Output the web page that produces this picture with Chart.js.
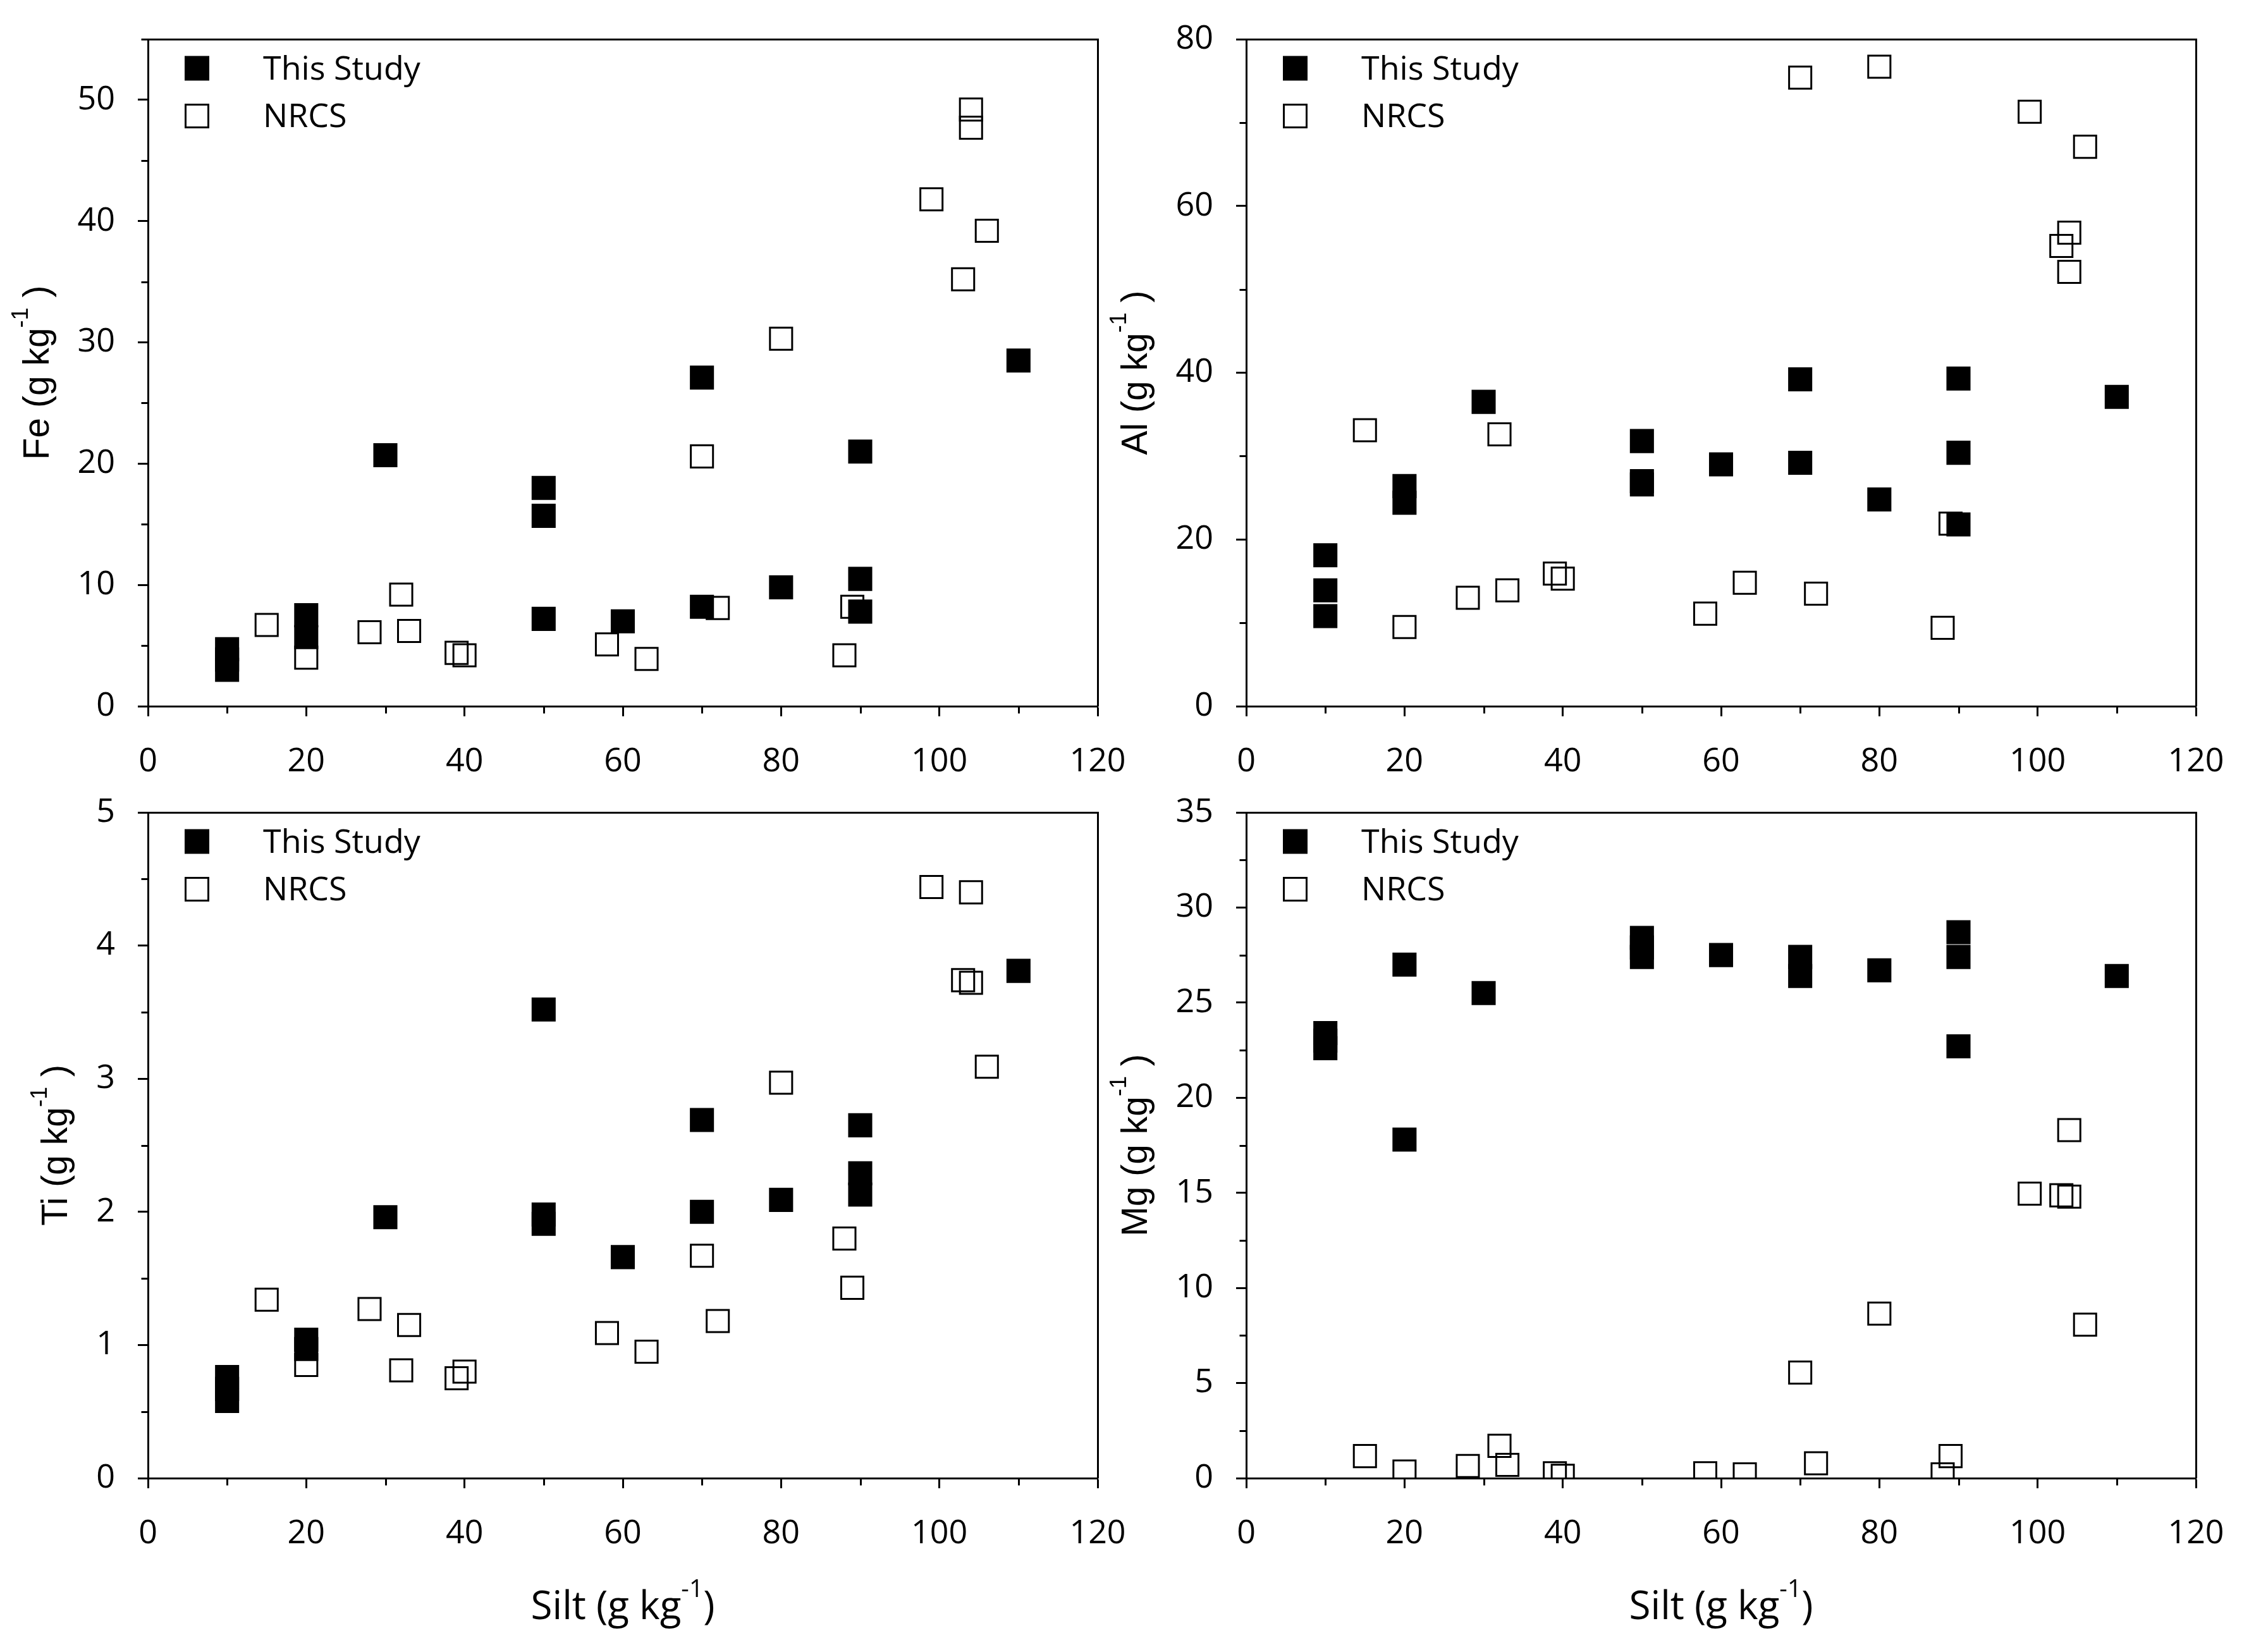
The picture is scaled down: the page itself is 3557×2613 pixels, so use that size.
<!DOCTYPE html>
<html>
<head>
<meta charset="utf-8">
<title>Fe, Al, Ti, Mg vs silt</title>
<script src="https://cdn.jsdelivr.net/npm/chart.js@4.4.1/dist/chart.umd.min.js"></script>
<style>
  html, body { margin: 0; padding: 0; background: #fff; }
  #wrap { position: relative; width: 3557px; height: 2613px; overflow: hidden; }
  #wrap canvas { position: absolute; }
</style>
</head>
<body>
<div id="wrap">
  <canvas id="chartFe" width="1836" height="1268" style="left:0px;top:-18px"></canvas>
  <canvas id="chartAl" width="1833" height="1268" style="left:1740px;top:-18px"></canvas>
  <canvas id="chartTi" width="1836" height="1408" style="left:0px;top:1205px"></canvas>
  <canvas id="chartMg" width="1833" height="1408" style="left:1740px;top:1205px"></canvas>
</div>
<script>
// silt (g/kg) for each sample
var studySilt = [10, 10, 10, 20, 20, 30, 50, 50, 50, 60, 70, 70, 80, 90, 90, 90, 110];
var nrcsSilt = [15, 20, 28, 32, 33, 39, 40, 58, 63, 70, 72, 80, 88, 89, 99, 103, 104, 104, 106];

// element contents (g/kg)
var feStudy = [4.7, 3.85, 3.0, 7.5, 5.7, 20.7, 18.0, 15.7, 7.2, 7.0, 27.1, 8.2, 9.8, 21.0, 10.5, 7.8, 28.5];
var feNrcs = [6.7, 4.0, 6.1, 9.2, 6.2, 4.4, 4.2, 5.1, 3.9, 20.6, 8.1, 30.3, 4.2, 8.2, 41.8, 35.2, 49.2, 47.7, 39.2];

var alStudy = [18.1, 13.9, 10.8, 26.4, 24.4, 36.5, 31.8, 27.0, 26.6, 29.0, 39.2, 29.2, 24.8, 39.3, 30.4, 21.8, 37.1];
var alNrcs = [33.1, 9.5, 13.0, 32.6, 13.9, 15.9, 15.3, 11.1, 14.8, 75.4, 13.5, 76.7, 9.4, 21.9, 71.3, 55.2, 56.8, 52.1, 67.1];

var tiStudy = [0.76, 0.67, 0.58, 1.04, 0.97, 1.96, 3.52, 1.98, 1.91, 1.66, 2.69, 2.0, 2.09, 2.65, 2.29, 2.13, 3.81];
var tiNrcs = [1.34, 0.85, 1.27, 0.81, 1.15, 0.75, 0.80, 1.09, 0.95, 1.67, 1.18, 2.97, 1.80, 1.43, 4.44, 3.74, 4.40, 3.72, 3.09];

var mgStudy = [23.4, 23.0, 22.6, 27.0, 17.8, 25.5, 28.4, 27.9, 27.4, 27.5, 27.4, 26.4, 26.7, 28.7, 27.4, 22.7, 26.4];
var mgNrcs = [1.16, 0.35, 0.64, 1.7, 0.7, 0.26, 0.12, 0.26, 0.2, 5.55, 0.78, 8.65, 0.2, 1.16, 14.96, 14.87, 18.3, 14.8, 8.07];

// tick labels
var siltTicks = [0, 20, 40, 60, 80, 100, 120];
var feTicks = [0, 10, 20, 30, 40, 50];
var alTicks = [0, 20, 40, 60, 80];
var tiTicks = [0, 1, 2, 3, 4, 5];
var mgTicks = [0, 5, 10, 15, 20, 25, 30, 35];

var labels = ['This Study', 'NRCS'];

Chart.defaults.color = '#000';
var tickFont = { family: '"Open Sans", sans-serif', size: 52 };

function pts(xs, ys) {
  return xs.map(function (x, i) { return { x: x, y: ys[i] }; });
}

// text with a raised "-1"
function supText(ctx, parts, x, y, size, family) {
  var big = size + 'px ' + family;
  var small = Math.round(size * 0.63) + 'px ' + family;
  var w = 0;
  parts.forEach(function (p) {
    ctx.font = p[1] ? small : big;
    w += ctx.measureText(p[0]).width;
  });
  var cx = x - w / 2;
  parts.forEach(function (p) {
    ctx.font = p[1] ? small : big;
    ctx.fillText(p[0], cx, p[1] ? y - size * 0.57 : y);
    cx += ctx.measureText(p[0]).width;
  });
}

// frame, minor ticks, legend and axis titles
var decor = {
  id: 'decor',
  afterDraw: function (chart, args, o) {
    var ctx = chart.ctx, a = chart.chartArea;
    var xs = chart.scales.x, ys = chart.scales.y;
    var L = Math.round(a.left) + 0.5, R = Math.round(a.right) + 0.5;
    var T = Math.round(a.top) + 0.5, B = Math.round(a.bottom) + 0.5;
    var v;
    ctx.save();
    ctx.strokeStyle = '#000';
    ctx.lineWidth = 3;
    ctx.beginPath();
    ctx.moveTo(L, T);
    ctx.lineTo(R, T);
    ctx.lineTo(R, B);
    for (v = o.xMinor; v < xs.max; v += 2 * o.xMinor) {
      var px = Math.round(xs.getPixelForValue(v)) + 0.5;
      ctx.moveTo(px, B);
      ctx.lineTo(px, B + 11);
    }
    for (v = o.yMinor; v <= ys.max + 1e-9; v += 2 * o.yMinor) {
      var py = Math.round(ys.getPixelForValue(v)) + 0.5;
      ctx.moveTo(L - 11, py);
      ctx.lineTo(L, py);
    }
    ctx.stroke();

    // legend
    ctx.font = '52px "Open Sans", sans-serif';
    ctx.textBaseline = 'middle';
    ctx.textAlign = 'left';
    chart.data.datasets.forEach(function (ds, i) {
      var cy = a.top + 46 + i * 75.5;
      var bx = a.left + 59.5, s = 36;
      ctx.fillStyle = ds.backgroundColor;
      ctx.fillRect(bx, cy - s / 2, s, s);
      ctx.strokeStyle = ds.borderColor;
      ctx.lineWidth = 3;
      ctx.strokeRect(bx, cy - s / 2, s, s);
      ctx.fillStyle = '#000';
      ctx.fillText(ds.label, a.left + 182, cy + 3);
    });

    // axis titles
    ctx.textBaseline = 'alphabetic';
    ctx.fillStyle = '#000';
    if (o.xTitle) {
      supText(ctx, [['Silt (g kg', 0], ['-1', 1], [')', 0]],
        (a.left + a.right) / 2, a.bottom + 223, 62, '"Open Sans", sans-serif');
    }
    ctx.font = '52px "Open Sans", sans-serif';
    var maxW = 0;
    ys.ticks.forEach(function (t) {
      maxW = Math.max(maxW, ctx.measureText(String(t.label)).width);
    });
    ctx.translate(a.left - 16 - 36 - maxW - 46, (a.top + a.bottom) / 2);
    ctx.rotate(-Math.PI / 2);
    supText(ctx, [[o.yTitle + ' (g kg', 0], ['-1', 1], [' )', 0]], 0, 0, 57, '"Liberation Sans", Arial, sans-serif');
    ctx.restore();
  }
};

// box: axis sizes that put the plot frame in place
function makePanel(id, name, study, nrcs, yMax, yTicks, box) {
  return new Chart(document.getElementById(id), {
    type: 'scatter',
    data: {
      datasets: [{
        label: labels[0],
        data: pts(studySilt, study),
        pointStyle: 'rect',
        pointRadius: 24.8,
        pointHoverRadius: 24.8,
        backgroundColor: '#000',
        borderColor: '#000',
        borderWidth: 3
      }, {
        label: labels[1],
        data: pts(nrcsSilt, nrcs),
        pointStyle: 'rect',
        pointRadius: 24.8,
        pointHoverRadius: 24.8,
        backgroundColor: 'rgba(0,0,0,0)',
        borderColor: '#000',
        borderWidth: 3
      }]
    },
    options: {
      responsive: false,
      animation: false,
      events: [],
      layout: { padding: { left: 0, top: 80, right: 100, bottom: 0 }, autoPadding: false },
      scales: {
        x: {
          type: 'linear', min: 0, max: 120,
          afterBuildTicks: function (s) { s.ticks = siltTicks.map(function (v) { return { value: v }; }); },
          ticks: { font: tickFont, padding: 41, autoSkip: false, maxRotation: 0 },
          grid: { drawOnChartArea: false, tickLength: 16, tickWidth: 3, tickColor: '#000' },
          border: { color: '#000', width: 3 },
          afterFit: function (s) { s.height = box.xh; }
        },
        y: {
          type: 'linear', min: 0, max: yMax,
          afterBuildTicks: function (s) { s.ticks = yTicks.map(function (v) { return { value: v }; }); },
          ticks: { font: tickFont, padding: 36, autoSkip: false },
          grid: { drawOnChartArea: false, tickLength: 16, tickWidth: 3, tickColor: '#000' },
          border: { color: '#000', width: 3 },
          afterFit: function (s) { s.width = box.yw; }
        }
      },
      plugins: {
        legend: { display: false },
        tooltip: { enabled: false },
        decor: { yTitle: name, xTitle: box.xTitle, xMinor: 10, yMinor: (yTicks[1] - yTicks[0]) / 2 }
      }
    },
    plugins: [decor]
  });
}

var chartFe = makePanel('chartFe', 'Fe', feStudy, feNrcs, 55, feTicks, { xh: 133, yw: 234, xTitle: false });
var chartAl = makePanel('chartAl', 'Al', alStudy, alNrcs, 80, alTicks, { xh: 133, yw: 231, xTitle: false });
var chartTi = makePanel('chartTi', 'Ti', tiStudy, tiNrcs, 5, tiTicks, { xh: 275, yw: 234, xTitle: true });
var chartMg = makePanel('chartMg', 'Mg', mgStudy, mgNrcs, 35, mgTicks, { xh: 275, yw: 231, xTitle: true });
</script>
</body>
</html>
